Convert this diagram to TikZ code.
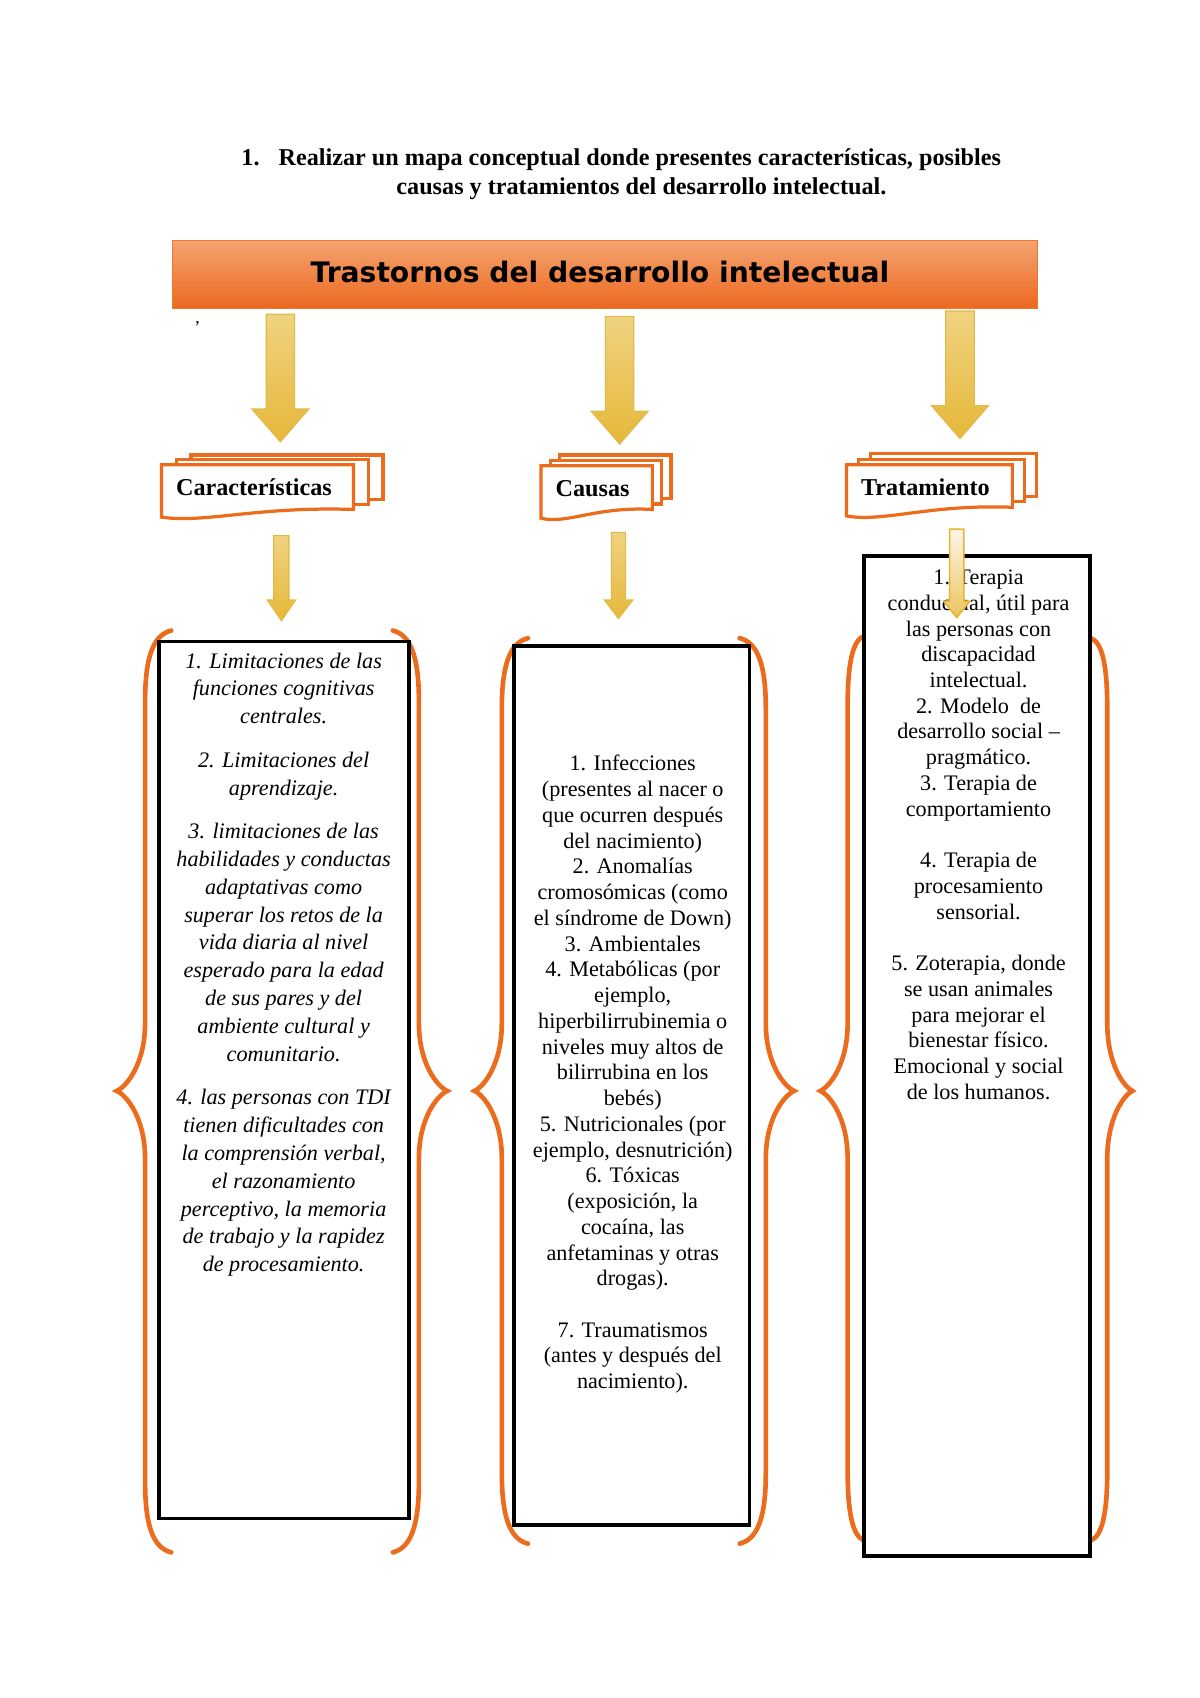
\documentclass[tikz,border=0pt]{standalone}
\usepackage{fontspec}
\setmainfont{Liberation Serif}
\newfontfamily\headfont{DejaVu Sans}
\usetikzlibrary{fit}
\definecolor{orng}{RGB}{236,108,30}
\definecolor{hdtop}{RGB}{244,164,114}
\definecolor{hdbot}{RGB}{236,104,30}
\definecolor{yltop}{RGB}{240,210,128}
\definecolor{ylbot}{RGB}{230,184,58}
\definecolor{yldraw}{RGB}{226,186,72}
\definecolor{pltop}{RGB}{252,246,232}
\definecolor{plbot}{RGB}{236,196,96}
\definecolor{pldraw}{RGB}{232,180,50}

\tikzset{
  bigarrow/.style={top color=yltop, bottom color=ylbot, draw=yldraw, line width=0.6pt},
  lightarrow/.style={top color=pltop, bottom color=plbot, draw=pldraw, line width=0.8pt},
  docshape/.style={fill=white, draw=orng, line width=1.6pt, line join=miter},
  textbox/.style={draw=black, fill=white, line width=1.9pt, inner sep=0pt},
  brace/.style={draw=orng, line width=2.3pt, line cap=round},
  doclabel/.style={font=\bfseries\fontsize{12}{14}\selectfont, anchor=base west, inner sep=0pt},
  bodytext/.style={align=center, inner sep=0pt, anchor=north}
}

% #1 style, #2 cx, #3 top, #4 head start, #5 tip, #6 shaft half width, #7 head half width
\newcommand\blockarr[7]{\path[#1] ({#2-#6},#3) -- ({#2+#6},#3) -- ({#2+#6},#4) -- ({#2+#7},#4) -- (#2,#5) -- ({#2-#7},#4) -- ({#2-#6},#4) -- cycle;}

% #1 name, #2 x, #3 top, #4 width, #5 right bottom, #6 left bottom, #7 dx, #8 dy, #9 label
\newcommand\multidoc[9]{%
  \path[docshape] ({#2+2*#7},{#3-2*#8}) rectangle ({#2+#4+2*#7},{#5-2*#8});
  \path[docshape] ({#2+#7},{#3-#8}) rectangle ({#2+#4+#7},{#5-#8});
  \path[docshape] (#2,#3) -- ({#2+#4},#3) -- ({#2+#4},#5) .. controls ({#2+0.5*#4},{#5-3}) and ({#2+0.22*#4},{#6+6}) .. (#2,#6) -- cycle;
  \node[doclabel] (#1) at ({#2+13},{#3+28}) {#9};}

% #1 end x, #2 vertical x, #3 point x, #4 top, #5 mid, #6 bottom
\newcommand\curlybrace[6]{\draw[brace] (#1,#4) .. controls ({#2+0.3*(#1-#2)},{#4+4}) and (#2,{#4+25}) .. (#2,{#4+65}) -- (#2,{#5-62}) .. controls (#2,{#5-25}) and ({#3+0.35*(#2-#3)},{#5-4}) .. (#3,#5) .. controls ({#3+0.35*(#2-#3)},{#5+4}) and (#2,{#5+25}) .. (#2,{#5+62}) -- (#2,{#6-65}) .. controls (#2,{#6-25}) and ({#2+0.3*(#1-#2)},{#6-4}) .. (#1,#6);}

\begin{document}
\begin{tikzpicture}[x=0.5412pt,y=-0.5412pt]
\useasboundingbox (0,0) rectangle (1100,1556.5);
\fill[white] (0,0) rectangle (1100,1556.5);

% title
\node[anchor=base west, inner sep=0pt, font=\bfseries\fontsize{12}{14}\selectfont] (tnum) at (221,152) {1.};
\node[anchor=base west, inner sep=0pt, font=\bfseries\fontsize{12}{14}\selectfont] (tline1) at (255,152) {Realizar un mapa conceptual donde presentes características, posibles};
\node[anchor=base, inner sep=0pt, font=\bfseries\fontsize{12}{14}\selectfont] (tline2) at (588,178) {causas y tratamientos del desarrollo intelectual.};

% header
\node[fit={(158,220) (951,283)}, inner sep=0pt, top color=hdtop, bottom color=hdbot, draw={rgb,255:red,238;green,120;blue,50}, line width=0.5pt] (header) {};
\node[anchor=base, inner sep=0pt, font=\headfont\bfseries\fontsize{14}{16}\selectfont] (htext) at (550,259) {Trastornos del desarrollo intelectual};
\node[inner sep=0pt, font=\fontsize{9}{10}\selectfont] (mark) at (181,300) {’};

% big arrows
\blockarr{bigarrow}{257}{288}{375}{405}{13}{26}
\blockarr{bigarrow}{568}{290}{377}{407}{13}{26}
\blockarr{bigarrow}{880}{285}{372}{402}{13}{26}

% documents
\multidoc{dcar}{148}{426}{176}{467}{474}{13.5}{4.5}{Características}
\multidoc{dcau}{496}{427}{102}{467}{475}{8.5}{5}{Causas}
\multidoc{dtra}{776}{426}{152}{465}{473}{11}{5}{Tratamiento}

% small arrows
\blockarr{bigarrow}{258}{491}{550}{569}{7}{13}
\blockarr{bigarrow}{567}{488}{550}{567}{6.5}{13}

% braces
\curlybrace{157}{133}{107}{578}{1000}{1423}
\curlybrace{360}{384}{410}{578}{1000}{1423}
\curlybrace{484}{460}{435}{585}{1000}{1415}
\curlybrace{678}{702}{728}{585}{1000}{1415}
\curlybrace{792}{777}{752}{583}{1000}{1412}
\curlybrace{1000}{1015}{1038}{585}{1000}{1412}

% text boxes
\node[textbox, fit={(146,588) (375,1392)}] (box1) {};
\node[textbox, fit={(471,592) (687,1398)}] (box2) {};
\node[textbox, fit={(792,510) (999,1426)}] (box3) {};

\node[bodytext, font=\itshape\fontsize{11}{13.8}\selectfont] (txt1) at (260,598) {1. Limitaciones de las\\ funciones cognitivas\\ centrales.\\[7.8pt] 2. Limitaciones del\\ aprendizaje.\\[7.8pt] 3. limitaciones de las\\ habilidades y conductas\\ adaptativas como\\ superar los retos de la\\ vida diaria al nivel\\ esperado para la edad\\ de sus pares y del\\ ambiente cultural y\\ comunitario.\\[7.8pt] 4. las personas con TDI\\ tienen dificultades con\\ la comprensión verbal,\\ el razonamiento\\ perceptivo, la memoria\\ de trabajo y la rapidez\\ de procesamiento.};

\node[bodytext, font=\fontsize{11}{12.77}\selectfont] (txt2) at (580,692) {1. Infecciones\\ (presentes al nacer o\\ que ocurren después\\ del nacimiento)\\ 2. Anomalías\\ cromosómicas (como\\ el síndrome de Down)\\ 3. Ambientales\\ 4. Metabólicas (por\\ ejemplo,\\ hiperbilirrubinemia o\\ niveles muy altos de\\ bilirrubina en los\\ bebés)\\ 5. Nutricionales (por\\ ejemplo, desnutrición)\\ 6. Tóxicas\\ (exposición, la\\ cocaína, las\\ anfetaminas y otras\\ drogas).\\[12.77pt] 7. Traumatismos\\ (antes y después del\\ nacimiento).};

\node[bodytext, font=\fontsize{11}{12.77}\selectfont] (txt3) at (897,522) {1. Terapia\\ conductual, útil para\\ las personas con\\ discapacidad\\ intelectual.\\ 2. Modelo~~de\\ desarrollo social –\\ pragmático.\\ 3. Terapia de\\ comportamiento\\[12.77pt] 4. Terapia de\\ procesamiento\\ sensorial.\\[12.77pt] 5. Zoterapia, donde\\ se usan animales\\ para mejorar el\\ bienestar físico.\\ Emocional y social\\ de los humanos.};

% small arrow over box 3
\blockarr{lightarrow}{877}{485}{551}{566}{6.5}{12}
\end{tikzpicture}
\end{document}
